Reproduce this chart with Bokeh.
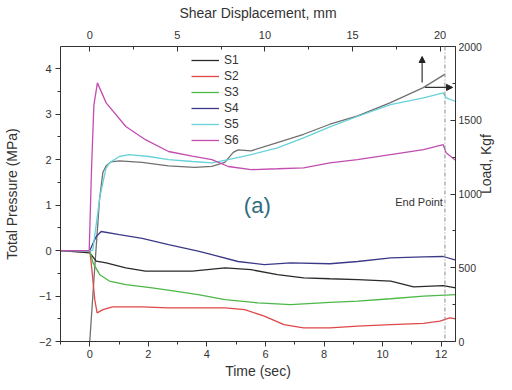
import math
from bokeh.plotting import figure
from bokeh.models import (Range1d, LinearAxis, Legend, LegendItem, Label, Span,
                          Arrow, NormalHead, SingleIntervalTicker)
from bokeh.embed import file_html
from bokeh.resources import INLINE

# ---- data ----
t_s1 = [-1, 0, 0.22, 0.56, 1.23, 1.9, 2.8, 3.5, 4.62, 5.51, 6.41, 7.3, 8.2, 9.15, 10.28, 11.06, 12.07, 12.5]
s1 = [0, -0.05, -0.23, -0.27, -0.38, -0.45, -0.45, -0.45, -0.38, -0.42, -0.53, -0.6, -0.62, -0.64, -0.67, -0.8, -0.77, -0.82]

t_s2 = [-1, 0, 0.06, 0.17, 0.25, 0.45, 0.78, 1.79, 2.69, 3.7, 4.62, 5.29, 5.96, 6.63, 7.3, 8.2, 9.15, 10.28, 11.4, 11.96, 12.29, 12.5]
s2 = [0, 0, -0.34, -1.08, -1.37, -1.30, -1.24, -1.24, -1.26, -1.26, -1.26, -1.30, -1.44, -1.63, -1.70, -1.70, -1.66, -1.63, -1.60, -1.55, -1.48, -1.5]

t_s3 = [-1, 0, 0.11, 0.34, 0.67, 1.23, 2.13, 2.91, 3.7, 4.62, 5.74, 6.86, 8.2, 9.15, 10.28, 11.4, 12.5]
s3 = [0, 0, -0.27, -0.53, -0.67, -0.75, -0.82, -0.89, -0.97, -1.08, -1.15, -1.19, -1.14, -1.11, -1.06, -1.0, -0.97]

t_s4 = [-1, 0, 0.22, 0.39, 1.01, 1.79, 2.69, 3.7, 4.17, 5.06, 5.96, 6.86, 8.2, 9.15, 10.28, 11.4, 12.07, 12.5]
s4 = [0, 0, 0.31, 0.42, 0.35, 0.27, 0.13, -0.01, -0.09, -0.24, -0.31, -0.27, -0.29, -0.24, -0.16, -0.14, -0.13, -0.21]

t_s5 = [-1, 0.1, 0.35, 0.55, 0.67, 1.01, 1.34, 2.02, 2.69, 3.5, 4.17, 4.73, 5.51, 6.41, 7.3, 8.2, 9.14, 10.27, 11.4, 12.07, 12.17, 12.5]
s5 = [0, 0, 1.2, 1.8, 1.93, 2.07, 2.11, 2.07, 2.0, 1.96, 1.93, 2.0, 2.11, 2.26, 2.48, 2.72, 2.95, 3.21, 3.36, 3.47, 3.36, 3.28]

t_s6 = [-1, -0.02, 0.06, 0.14, 0.26, 0.56, 1.23, 1.9, 2.69, 3.5, 4.17, 4.73, 5.51, 6.41, 7.3, 8.2, 9.14, 10.27, 11.4, 12.07, 12.17, 12.5]
s6 = [0, 0, 1.8, 3.2, 3.69, 3.25, 2.73, 2.44, 2.18, 2.08, 2.0, 1.85, 1.78, 1.80, 1.82, 1.93, 2.0, 2.11, 2.22, 2.33, 2.15, 1.98]

# load (Kgf) vs shear displacement (mm)
disp = [0, 0.28, 0.56, 0.75, 0.94, 1.22, 1.69, 2.99, 4.49, 5.99, 6.97, 7.71, 8.19, 8.47, 9.21, 10.71, 12.21, 13.71, 15.30, 17.17, 19.04, 20.26]
load = [0, 493, 966, 1147, 1191, 1218, 1225, 1214, 1191, 1180, 1187, 1214, 1282, 1299, 1293, 1349, 1405, 1473, 1529, 1620, 1721, 1811]

names = ["S1", "S2", "S3", "S4", "S5", "S6"]
colors = ["#2a2a2a", "#e04848", "#4cb848", "#3c3a88", "#66d2da", "#c24cb0"]

FONT = "Liberation Sans"
TXT = "#333333"

p = figure(width=504, height=381, x_range=Range1d(-1.0, 12.49), y_range=Range1d(-2.0, 4.49),
           output_backend="svg", toolbar_location=None,
           min_border_left=53, min_border_right=49, min_border_top=46, min_border_bottom=39)
p.extra_x_ranges = {"disp": Range1d(-1.67, 20.88)}
p.extra_y_ranges = {"load": Range1d(0, 2000)}
p.grid.visible = False
p.outline_line_color = None
p.background_fill_color = "white"
p.border_fill_color = "white"

bottom = p.below[0]
left = p.left[0]
top = LinearAxis(x_range_name="disp", axis_label="Shear Displacement, mm")
right = LinearAxis(y_range_name="load", axis_label="Load, Kgf")
p.add_layout(top, "above")
p.add_layout(right, "right")

bottom.axis_label = "Time (sec)"
left.axis_label = "Total Pressure (MPa)"

bottom.ticker = SingleIntervalTicker(interval=2, num_minor_ticks=2)
left.ticker = SingleIntervalTicker(interval=1, num_minor_ticks=2)
top.ticker = SingleIntervalTicker(interval=5, num_minor_ticks=2)
right.ticker = SingleIntervalTicker(interval=500, num_minor_ticks=2)

for ax in (bottom, left, top, right):
    ax.axis_line_color = "#333333"
    ax.major_tick_line_color = "#333333"
    ax.minor_tick_line_color = "#333333"
    ax.major_label_text_font = FONT
    ax.major_label_text_font_size = "11px"
    ax.major_label_text_color = TXT
    ax.axis_label_text_font = FONT
    ax.axis_label_text_font_size = "14px"
    ax.axis_label_text_font_style = "normal"
    ax.axis_label_text_color = TXT
right.major_label_text_font_size = "10.5px"

for ax in (bottom, left):
    ax.major_tick_in = 0
    ax.major_tick_out = 5
    ax.minor_tick_in = 0
    ax.minor_tick_out = 3
for ax in (top, right):
    ax.major_tick_in = 5
    ax.major_tick_out = 0
    ax.minor_tick_in = 3
    ax.minor_tick_out = 0

left.major_label_standoff = 4
left.axis_label_standoff = 16
bottom.major_label_standoff = 3
bottom.axis_label_standoff = 2
top.major_label_standoff = 8
top.axis_label_standoff = 7
right.major_label_standoff = 3
right.axis_label_standoff = 1
if "axis_label_orientation" in right.properties():
    right.axis_label_orientation = math.pi / 2

# load curve on secondary axes
p.line(disp, load, x_range_name="disp", y_range_name="load", line_color="#707070", line_width=1.3)

series = [(t_s1, s1), (t_s2, s2), (t_s3, s3), (t_s4, s4), (t_s5, s5), (t_s6, s6)]
renderers = []
for (tx, sy), c in zip(series, colors):
    renderers.append(p.line(tx, sy, line_color=c, line_width=1.3))

legend = Legend(items=[LegendItem(label=n, renderers=[r]) for n, r in zip(names, renderers)],
                location=(131, 193), padding=0, margin=0, spacing=0,
                glyph_width=28, glyph_height=16, label_height=16, label_standoff=5,
                label_text_font=FONT, label_text_font_size="12px", label_text_color=TXT,
                border_line_alpha=0, background_fill_alpha=0)
p.add_layout(legend)

p.add_layout(Span(location=12.13, dimension="height", line_color="#8a8a8a",
                  line_dash="4 2 1 2", line_width=1))

p.add_layout(Arrow(end=NormalHead(size=6, fill_color="#222222", line_color="#222222"),
                   x_start=11.35, y_start=3.70, x_end=11.35, y_end=4.27,
                   line_color="#333333", line_width=1.2))
p.add_layout(Arrow(end=NormalHead(size=6, fill_color="#222222", line_color="#222222"),
                   x_start=11.45, y_start=3.59, x_end=12.39, y_end=3.59,
                   line_color="#333333", line_width=1.2))

p.add_layout(Label(x=5.72, y=0.99, text="(a)", text_align="center", text_baseline="middle",
                   text_font=FONT, text_font_size="22px", text_color="#2f6c7c"))
p.add_layout(Label(x=12.06, y=1.06, text="End Point", text_align="right", text_baseline="middle",
                   text_font=FONT, text_font_size="11px", text_color=TXT))

open("out.html", "w").write(file_html(p, INLINE))
